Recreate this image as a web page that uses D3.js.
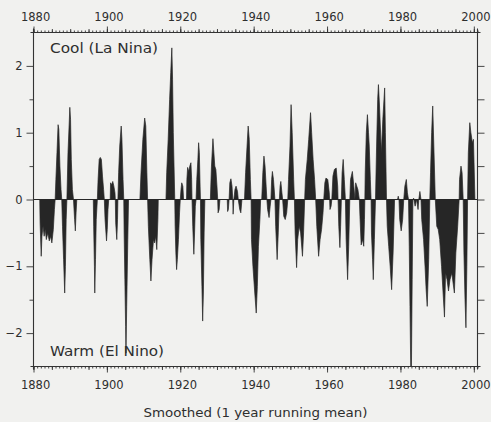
<!DOCTYPE html>
<html>
<head>
<meta charset="utf-8">
<script src="https://cdn.jsdelivr.net/npm/d3@7"></script>
<style>
  html, body { margin: 0; padding: 0; background: #f1f1ef; }
  svg { display: block; }
  text { font-family: "DejaVu Sans", sans-serif; fill: #2e2e2e; }
</style>
</head>
<body>
<svg id="chart"></svg>
<script>
// smoothed index, [year, value]
const soi1880s = [
  [1880.0, 0], [1881.7, 0], [1881.8, -0.35], [1882.1, -0.85], [1882.3, -0.55], [1882.6, -0.4],
  [1882.9, -0.55], [1883.2, -0.45], [1883.5, -0.6], [1883.9, -0.5], [1884.3, -0.62], [1884.7, -0.55],
  [1885.0, -0.65], [1885.4, -0.45], [1885.7, -0.15], [1885.9, 0],
  [1886.1, 0.3], [1886.4, 0.7], [1886.7, 1.12], [1886.9, 1.05], [1887.2, 0.5], [1887.5, 0.15], [1887.7, 0],
  [1887.9, -0.4], [1888.2, -0.9], [1888.5, -1.4], [1888.7, -1.0], [1888.9, -0.3], [1889.1, 0],
  [1889.4, 0.7], [1889.7, 1.1], [1889.9, 1.38], [1890.1, 1.2], [1890.3, 0.6], [1890.6, 0.15], [1890.9, 0],
  [1891.2, -0.3], [1891.4, -0.47], [1891.6, -0.2], [1891.8, 0], [1896.3, 0],
  [1896.4, -0.4], [1896.6, -1.0], [1896.7, -1.4], [1896.9, -0.9], [1897.1, -0.3], [1897.4, 0],
  [1897.6, 0.3], [1897.9, 0.6], [1898.2, 0.63], [1898.5, 0.6], [1898.8, 0.35], [1899.1, 0.15], [1899.3, 0],
  [1899.5, -0.3], [1899.9, -0.62], [1900.1, -0.45], [1900.3, -0.15], [1900.5, 0]
];
const soi1900s = [
  [1900.9, 0], [1901.0, 0.25], [1901.3, 0.22], [1901.6, 0.27], [1901.9, 0.2], [1902.2, 0.1], [1902.3, 0],
  [1902.4, -0.35], [1902.7, -0.6], [1902.9, -0.3], [1903.0, 0],
  [1903.2, 0.4], [1903.5, 0.8], [1903.9, 1.1], [1904.1, 0.9], [1904.4, 0.3], [1904.6, 0],
  [1904.7, -0.5], [1904.9, -1.2], [1905.1, -1.9], [1905.2, -2.3], [1905.4, -1.6], [1905.7, -0.6], [1905.9, 0],
  [1909.0, 0], [1909.3, 0.4], [1909.8, 0.9], [1910.3, 1.22], [1910.6, 1.1], [1910.9, 0.4], [1911.1, 0],
  [1911.3, -0.4], [1911.7, -0.9], [1912.0, -1.22], [1912.3, -0.9], [1912.7, -0.6], [1913.0, -0.65],
  [1913.3, -0.55], [1913.6, -0.75], [1913.9, -0.3], [1914.0, 0],
  [1916.1, 0], [1916.3, 0.4], [1916.7, 0.9], [1917.1, 1.5], [1917.4, 1.9], [1917.7, 2.27], [1917.9, 1.8],
  [1918.1, 1.0], [1918.3, 0.5], [1918.5, 0],
  [1918.6, -0.4], [1918.8, -0.8], [1919.0, -1.05], [1919.2, -0.9], [1919.5, -0.6], [1919.8, -0.2], [1920.0, 0]
];
const soi1920s = [
  [1920.2, 0.15], [1920.4, 0.25], [1920.7, 0.2], [1920.9, 0], [1921.7, 0],
  [1921.8, 0.3], [1922.0, 0.48], [1922.3, 0.42], [1922.6, 0.5], [1922.9, 0.55], [1923.1, 0.3], [1923.2, 0],
  [1923.4, -0.4], [1923.7, -0.82], [1923.9, -0.5], [1924.1, -0.1], [1924.3, 0],
  [1924.5, 0.3], [1924.8, 0.6], [1925.0, 0.85], [1925.2, 0.7], [1925.4, 0.2], [1925.5, 0],
  [1925.6, -0.6], [1925.9, -1.3], [1926.1, -1.82], [1926.3, -1.4], [1926.5, -0.5], [1926.7, 0],
  [1928.2, 0], [1928.5, 0.5], [1928.9, 0.91], [1929.1, 0.75], [1929.4, 0.5], [1929.7, 0.45], [1930.0, 0.2], [1930.2, 0],
  [1930.3, -0.2], [1930.6, -0.15], [1930.8, 0], [1932.8, 0],
  [1932.9, -0.18], [1933.1, -0.15], [1933.3, 0], [1933.5, 0.25], [1933.8, 0.31], [1934.1, 0.2], [1934.3, 0],
  [1934.4, -0.22], [1934.6, 0], [1934.9, 0.15], [1935.2, 0.2], [1935.6, 0.12], [1935.8, 0],
  [1936.2, -0.15], [1936.5, -0.2], [1936.8, 0],
  [1937.5, 0], [1937.8, 0.4], [1938.2, 0.8], [1938.5, 1.1], [1938.8, 0.9], [1939.1, 0.3], [1939.3, 0]
];
const soi1940s = [
  [1939.4, -0.6], [1939.8, -1.0], [1940.3, -1.4], [1940.7, -1.7], [1941.0, -1.3], [1941.3, -0.7], [1941.7, -0.3], [1941.9, 0],
  [1942.2, 0], [1942.5, 0.4], [1942.8, 0.65], [1943.1, 0.5], [1943.4, 0.2], [1943.6, 0],
  [1943.8, -0.15], [1944.2, -0.27], [1944.5, -0.1], [1944.7, 0],
  [1944.9, 0.3], [1945.1, 0.42], [1945.4, 0.3], [1945.8, 0],
  [1946.0, -0.4], [1946.4, -0.9], [1946.7, -0.5], [1947.0, 0],
  [1947.2, 0.2], [1947.4, 0.27], [1947.7, 0.1], [1947.9, 0],
  [1948.2, -0.25], [1948.6, -0.3], [1949.0, -0.2], [1949.3, 0],
  [1949.5, 0.3], [1949.9, 0.8], [1950.2, 1.42], [1950.5, 1.0], [1950.9, 0.3], [1951.1, 0],
  [1951.3, -0.5], [1951.7, -1.02], [1952.0, -0.6], [1952.4, -0.4], [1952.8, -0.5], [1953.3, -0.85], [1953.6, -0.5], [1953.9, 0],
  [1954.1, 0.3], [1954.6, 0.6], [1955.0, 0.9], [1955.5, 1.3], [1955.8, 1.0], [1956.2, 0.6], [1956.6, 0.3], [1956.9, 0],
  [1957.2, -0.4], [1957.7, -0.85], [1958.1, -0.6], [1958.5, -0.45], [1958.9, -0.2], [1959.1, 0],
  [1959.4, 0.25], [1959.7, 0.32], [1960.2, 0.3], [1960.6, 0.1], [1960.7, 0]
];
const soi1960s = [
  [1960.8, -0.15], [1961.1, -0.1], [1961.3, 0],
  [1961.6, 0.35], [1962.0, 0.45], [1962.5, 0.47], [1962.9, 0.2], [1963.0, 0],
  [1963.2, -0.4], [1963.5, -0.72], [1963.7, -0.4], [1963.9, 0],
  [1964.1, 0.4], [1964.4, 0.6], [1964.7, 0.3], [1965.0, 0],
  [1965.2, -0.6], [1965.6, -1.2], [1965.9, -0.7], [1966.2, 0],
  [1966.4, 0.3], [1966.9, 0.42], [1967.3, 0.2], [1967.6, 0],
  [1967.8, 0.25], [1968.1, 0.2], [1968.4, 0.15], [1968.8, 0],
  [1969.0, -0.3], [1969.3, -0.68], [1969.7, -0.6], [1970.0, -0.7], [1970.2, -0.3], [1970.3, 0],
  [1970.4, 0.4], [1970.7, 1.0], [1971.0, 1.27], [1971.3, 1.0], [1971.5, 0.8], [1971.8, 0.3], [1972.0, 0],
  [1972.1, -0.5], [1972.4, -0.9], [1972.6, -1.2], [1972.9, -0.6], [1973.2, 0],
  [1973.5, 0.8], [1973.8, 1.5], [1974.0, 1.72], [1974.3, 1.4], [1974.8, 0.7], [1975.2, 1.2], [1975.7, 1.67],
  [1975.9, 1.0], [1976.2, 0],
  [1976.4, -0.4], [1976.8, -0.7], [1977.2, -1.0], [1977.6, -1.35], [1978.0, -0.8], [1978.4, 0],
  [1979.2, 0], [1979.4, 0.05], [1979.6, 0], [1979.8, -0.3], [1980.2, -0.47], [1980.6, -0.3], [1980.9, 0]
];
const soi1980s = [
  [1981.2, 0.2], [1981.6, 0.3], [1981.9, 0.1], [1982.2, 0],
  [1982.4, -0.7], [1982.6, -1.6], [1982.8, -2.5], [1983.0, -2.5], [1983.2, -1.2], [1983.4, 0],
  [1983.6, 0.02], [1984.0, -0.1], [1984.4, 0], [1984.8, -0.15], [1985.0, 0], [1985.3, 0.12], [1985.6, 0],
  [1985.8, -0.3], [1986.3, -0.6], [1986.7, -1.0], [1987.0, -1.35], [1987.3, -1.6], [1987.7, -0.9], [1988.0, 0],
  [1988.2, 0.4], [1988.5, 1.0], [1988.8, 1.4], [1989.1, 0.8], [1989.5, 0],
  [1989.9, -0.4], [1990.3, -0.45], [1990.7, -0.6], [1991.2, -1.0], [1992.0, -1.76], [1992.3, -1.1],
  [1992.7, -1.2], [1993.1, -1.37], [1993.5, -1.2], [1994.0, -1.1], [1994.7, -1.4], [1995.1, -0.8],
  [1995.6, -0.4], [1996.0, 0],
  [1996.1, 0.3], [1996.5, 0.5], [1996.8, 0.4], [1997.1, 0],
  [1997.3, -0.8], [1997.6, -1.5], [1997.85, -1.92], [1998.1, -1.0], [1998.3, 0],
  [1998.5, 0.7], [1998.9, 1.15], [1999.2, 1.0], [1999.6, 0.85], [1999.9, 0.9], [2000.3, 0]
];

const yearTicks = [1880, 1900, 1920, 1940, 1960, 1980, 2000];
const valueTicks = [-2, -1, 0, 1, 2];
const halfTicks = [-1.5, -0.5, 0.5, 1.5];
const labelCool = "Cool (La Nina)";
const labelWarm = "Warm (El Nino)";
const xTitle = "Smoothed (1 year running mean)";

const width = 491, height = 422;
const ink = "#262626";

const svg = d3.select("#chart").attr("width", width).attr("height", height);
svg.append("rect").attr("width", width).attr("height", height).attr("fill", "#f1f1ef");

const x = d3.scaleLinear().domain([1880, 2001]).range([33.5, 477.5]);
const y = d3.scaleLinear().domain([-2.5, 2.5]).range([366.5, 32.5]);

const series = [].concat(soi1880s, soi1900s, soi1920s, soi1940s, soi1960s, soi1980s);

// filled trace between zero and the index
const area = d3.area()
  .x(d => x(d[0]))
  .y0(y(0))
  .y1(d => y(d[1]));

svg.append("path")
  .datum(series)
  .attr("d", area)
  .attr("fill", ink)
  .attr("stroke", ink)
  .attr("stroke-width", 0.7)
  .attr("stroke-linejoin", "miter");

// zero line
svg.append("line")
  .attr("x1", x.range()[0]).attr("x2", x.range()[1])
  .attr("y1", y(0)).attr("y2", y(0))
  .attr("stroke", ink).attr("stroke-width", 1);

const years = d3.range(1880, 2002, 1);
const fives = d3.range(1880, 2002, 5);

function styleAxis(g) {
  g.select(".domain").remove();
  g.selectAll("line").attr("stroke", "#333").attr("stroke-width", 0.9);
  g.selectAll("text").attr("fill", "#2e2e2e").style("font-family", "DejaVu Sans, sans-serif");
}

// top axis
svg.append("g").attr("transform", `translate(0,${y.range()[1]})`)
  .call(d3.axisTop(x).tickValues(years).tickSize(2).tickFormat(""))
  .call(styleAxis);
svg.append("g").attr("transform", `translate(0,${y.range()[1]})`)
  .call(d3.axisTop(x).tickValues(fives).tickSize(3.5).tickFormat(""))
  .call(styleAxis);
svg.append("g").attr("transform", `translate(0,${y.range()[1]})`)
  .call(d3.axisTop(x).tickValues(yearTicks).tickSize(6).tickPadding(6).tickFormat(d3.format("d")))
  .call(styleAxis)
  .call(g => g.selectAll("text").attr("dx", 1.6).attr("font-size", 11.5));

// bottom axis
svg.append("g").attr("transform", `translate(0,${y.range()[0]})`)
  .call(d3.axisBottom(x).tickValues(years).tickSize(2).tickFormat(""))
  .call(styleAxis);
svg.append("g").attr("transform", `translate(0,${y.range()[0]})`)
  .call(d3.axisBottom(x).tickValues(fives).tickSize(3.5).tickFormat(""))
  .call(styleAxis);
svg.append("g").attr("transform", `translate(0,${y.range()[0]})`)
  .call(d3.axisBottom(x).tickValues(yearTicks).tickSize(6).tickPadding(8).tickFormat(d3.format("d")))
  .call(styleAxis)
  .call(g => g.selectAll("text").attr("dx", 1.6).attr("font-size", 11.5));

// left axis
svg.append("g").attr("transform", `translate(${x.range()[0]},0)`)
  .call(d3.axisLeft(y).tickValues(valueTicks).tickSize(7).tickPadding(4).tickFormat(d3.format("d")))
  .call(styleAxis)
  .call(g => g.selectAll("text").attr("font-size", 11.5));
svg.append("g").attr("transform", `translate(${x.range()[0]},0)`)
  .call(d3.axisLeft(y).tickValues(halfTicks).tickSize(4).tickFormat(""))
  .call(styleAxis);

// right axis
svg.append("g").attr("transform", `translate(${x.range()[1]},0)`)
  .call(d3.axisRight(y).tickValues(valueTicks.concat(halfTicks)).tickSize(7).tickFormat(""))
  .call(styleAxis);

// frame
const [xl, xr] = x.range();
const [yb, yt] = y.range();
const frame = svg.append("g").attr("stroke", "#333").attr("stroke-width", 1.1);
frame.append("line").attr("x1", xl - 3).attr("x2", xr + 3).attr("y1", yt).attr("y2", yt);
frame.append("line").attr("x1", xl - 3).attr("x2", xr + 3).attr("y1", yb).attr("y2", yb);
frame.append("line").attr("x1", xl).attr("x2", xl).attr("y1", yt - 4).attr("y2", yb + 3);
frame.append("line").attr("x1", xr).attr("x2", xr).attr("y1", yt - 4).attr("y2", yb + 3);

// labels
svg.append("text").attr("x", 50).attr("y", 53)
  .attr("font-size", 14).attr("textLength", 108).attr("lengthAdjust", "spacingAndGlyphs")
  .text(labelCool);
svg.append("text").attr("x", 50).attr("y", 356)
  .attr("font-size", 14).attr("textLength", 114).attr("lengthAdjust", "spacingAndGlyphs")
  .text(labelWarm);
svg.append("text").attr("x", 255.5).attr("y", 416.5).attr("text-anchor", "middle")
  .attr("font-size", 12.5).attr("textLength", 224).attr("lengthAdjust", "spacingAndGlyphs")
  .text(xTitle);
</script>
</body>
</html>
